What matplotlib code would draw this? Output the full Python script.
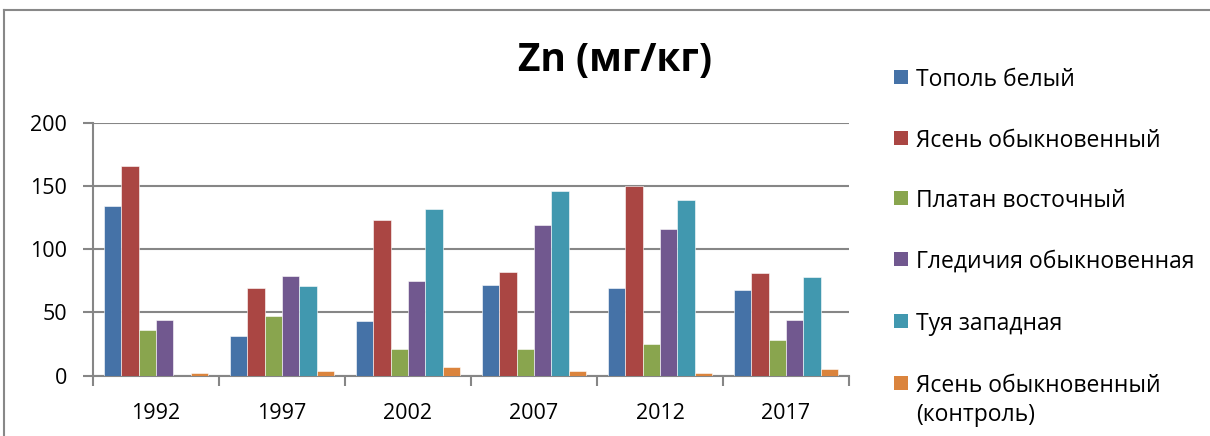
import matplotlib
matplotlib.use("Agg")
import matplotlib.pyplot as plt
from matplotlib.patches import Rectangle
from matplotlib.lines import Line2D
import numpy as np

plt.rcParams['font.family'] = ['Open Sans', 'DejaVu Sans']

years = ["1992", "1997", "2002", "2007", "2012", "2017"]
series_names = ["Тополь белый", "Ясень обыкновенный", "Платан восточный",
                "Гледичия обыкновенная", "Туя западная",
                "Ясень обыкновенный\n(контроль)"]
topol = [134, 31, 43, 72, 69, 68]
yasen = [166, 69, 123, 82, 150, 81]
platan = [36, 47, 21, 21, 25, 28]
gledichia = [44, 79, 75, 119, 116, 44]
tuya = [0, 71, 132, 146, 139, 78]
yasen_control = [2, 4, 7, 4, 2, 5]
colors = ["#4572A7", "#AA4643", "#89A54E", "#71588F", "#4198AF", "#DB843D"]

all_series = [topol, yasen, platan, gledichia, tuya, yasen_control]

W, H = 1210, 436
fig = plt.figure(figsize=(W / 100, H / 100), dpi=100)

ax_l, ax_r, ax_t, ax_b = 93, 849, 122.7, 375.7
ax = fig.add_axes([ax_l / W, 1 - ax_b / H, (ax_r - ax_l) / W, (ax_b - ax_t) / H])

n = len(all_series)
bw = 0.137
x = np.arange(len(years)) + 0.5
for i, (vals, c) in enumerate(zip(all_series, colors)):
    ax.bar(x + (i - (n - 1) / 2) * bw, vals, width=bw, color=c,
           edgecolor="white", linewidth=0.4, zorder=3)

grey = "#868686"
ax.set_xlim(0, len(years))
ax.set_ylim(0, 200)
ax.set_yticks([0, 50, 100, 150, 200])
ax.set_xticks(np.arange(len(years) + 1))
ax.set_xticklabels([])
ax.set_xticks(x, minor=True)
ax.set_xticklabels(years, minor=True)
ax.tick_params(axis='x', which='minor', length=0, pad=19.5, labelsize=15.5)
ax.tick_params(axis='x', which='major', length=7.2, width=1.5, color=grey, direction='out')
ax.tick_params(axis='y', length=7.2, width=1.5, color=grey, direction='out',
               labelsize=15.5, pad=11.5)
ax.grid(axis='y', color=grey, linewidth=1.5, zorder=0)
ax.set_axisbelow(True)
for s in ["top", "right"]:
    ax.spines[s].set_visible(False)
for s in ["left", "bottom"]:
    ax.spines[s].set_color(grey)
    ax.spines[s].set_linewidth(1.5)

fig.text(615 / W, 1 - 61 / H, "Zn (мг/кг)", ha="center", va="center",
         fontsize=28, fontweight="bold")

# legend (Excel style: square aligned with first line of label)
entry_y = [77, 138, 198, 259, 321, 383]
line_gap = 29
sq = 14
for name, c, yc in zip(series_names, colors, entry_y):
    fig.add_artist(Rectangle((894 / W, 1 - (yc + sq / 2) / H), sq / W, sq / H,
                             facecolor=c, edgecolor="none", transform=fig.transFigure))
    for k, line in enumerate(name.split("\n")):
        fig.text(916 / W, 1 - (yc + k * line_gap) / H, line, ha="left",
                 va="center_baseline", fontsize=16.5)

# outer chart frame
fig.add_artist(Line2D([4 / W, 1], [1 - 10 / H, 1 - 10 / H], color="#888888", lw=1.5))
fig.add_artist(Line2D([4 / W, 4 / W], [0, 1 - 10 / H], color="#888888", lw=1.5))

fig.savefig("out.png", dpi=100)
